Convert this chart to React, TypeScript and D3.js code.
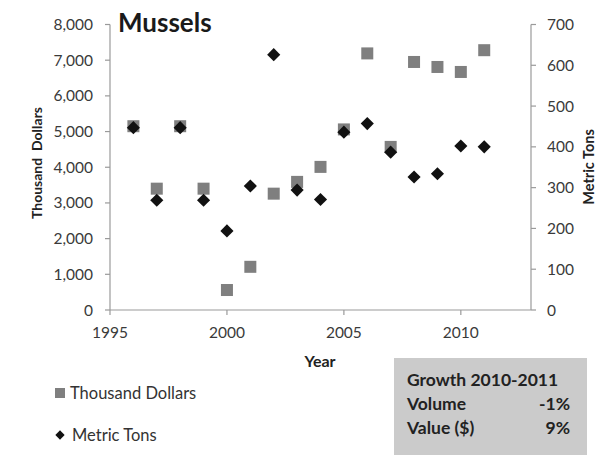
import React from "react";
import * as d3 from "d3";

const years = [1996, 1997, 1998, 1999, 2000, 2001, 2002, 2003, 2004, 2005, 2006, 2007, 2008, 2009, 2010, 2011];
const thousandDollars = [5150, 3400, 5150, 3400, 560, 1210, 3260, 3590, 4010, 5060, 7190, 4570, 6950, 6810, 6670, 7280];
const metricTons = [447, 269, 447, 269, 194, 304, 626, 294, 271, 436, 457, 387, 326, 334, 402, 400];
const xTicks = [1995, 2000, 2005, 2010];
const leftTicks = [0, 1000, 2000, 3000, 4000, 5000, 6000, 7000, 8000];
const rightTicks = [0, 100, 200, 300, 400, 500, 600, 700];
const growthRows = [
  ["Volume", "-1%"],
  ["Value ($)", "9%"],
];

const W = 608;
const H = 455;
const FONT = "Lato, 'Open Sans', sans-serif";

export default function App() {
  const x = d3.scaleLinear().domain([1995, 2013]).range([110, 531]);
  const yL = d3.scaleLinear().domain([0, 8000]).range([310, 24.5]);
  const yR = d3.scaleLinear().domain([0, 700]).range([310, 24.5]);
  const fmt = d3.format(",");
  const axisColor = "#9a9a9a";
  const tickText = "#3a3a3a";
  const diamond = d3.symbol().type(d3.symbolDiamond2 ?? d3.symbolDiamond).size(110);
  const legendDiamond = d3.symbol().type(d3.symbolDiamond2 ?? d3.symbolDiamond).size(55);

  return (
    <svg width={W} height={H} style={{ position: "absolute", left: 0, top: 0, background: "#fff" }} fontFamily={FONT}>
      {/* axes */}
      <line x1={x(1995)} x2={x(2013)} y1={yL(0)} y2={yL(0)} stroke={axisColor} strokeWidth={1.2} />
      <line x1={x(1995)} x2={x(1995)} y1={yL(0)} y2={yL(8000)} stroke={axisColor} strokeWidth={1.2} />
      <line x1={x(2013)} x2={x(2013)} y1={yR(0)} y2={yR(700)} stroke={axisColor} strokeWidth={1.2} />
      {xTicks.map((t) => (
        <g key={"x" + t}>
          <line x1={x(t)} x2={x(t)} y1={yL(0)} y2={yL(0) + 5} stroke={axisColor} strokeWidth={1.2} />
          <text x={x(t)} y={yL(0) + 28} textAnchor="middle" fontSize={15.5} fill={tickText}>{t}</text>
        </g>
      ))}
      {leftTicks.map((t) => (
        <g key={"l" + t}>
          <line x1={x(1995) - 5} x2={x(1995)} y1={yL(t)} y2={yL(t)} stroke={axisColor} strokeWidth={1.2} />
          <text x={x(1995) - 17} y={yL(t) + 5.5} textAnchor="end" fontSize={15.5} fill={tickText}>{fmt(t)}</text>
        </g>
      ))}
      {rightTicks.map((t) => (
        <g key={"r" + t}>
          <line x1={x(2013)} x2={x(2013) + 5} y1={yR(t)} y2={yR(t)} stroke={axisColor} strokeWidth={1.2} />
          <text x={x(2013) + 16} y={yR(t) + 5.5} textAnchor="start" fontSize={15.5} fill={tickText}>{t}</text>
        </g>
      ))}
      {/* axis titles */}
      <text transform={`translate(42,163) rotate(-90)`} textAnchor="middle" fontSize={14} fontWeight="bold" fill="#222">{"Thousand\u00a0\u00a0Dollars"}</text>
      <text transform={`translate(594,167) rotate(-90)`} textAnchor="middle" fontSize={14.5} fontWeight="bold" fill="#222">Metric Tons</text>
      <text x={320} y={367} textAnchor="middle" fontSize={16} fontWeight="bold" fill="#222">Year</text>
      {/* title */}
      <text x={118} y={32} fontSize={26} fontWeight="bold" fill="#1a1a1a">Mussels</text>
      {/* squares */}
      {years.map((yr, i) => (
        <rect key={"s" + yr} x={x(yr) - 6} y={yL(thousandDollars[i]) - 6} width={12} height={12} fill="#7f7f7f" />
      ))}
      {/* diamonds */}
      {years.map((yr, i) => (
        <path key={"d" + yr} d={diamond() as string} transform={`translate(${x(yr)},${yR(metricTons[i])})`} fill="#111" />
      ))}
      {/* legend */}
      <rect x={55} y={388} width={10} height={10} fill="#7f7f7f" />
      <text x={70} y={398.5} fontSize={16.5} fill="#333">Thousand Dollars</text>
      <path d={legendDiamond() as string} transform="translate(60,435)" fill="#111" />
      <text x={72} y={441} fontSize={16.5} fill="#333">Metric Tons</text>
      {/* growth box */}
      <rect x={394} y={358} width={193} height={100} fill="#cbcbcb" />
      <text x={407} y={386} fontSize={17.5} fontWeight="bold" fill="#222">Growth 2010-2011</text>
      {growthRows.map((r, i) => (
        <g key={r[0]}>
          <text x={407} y={410 + i * 24} fontSize={17.5} fontWeight="bold" fill="#222">{r[0]}</text>
          <text x={570} y={410 + i * 24} textAnchor="end" fontSize={17.5} fontWeight="bold" fill="#222">{r[1]}</text>
        </g>
      ))}
    </svg>
  );
}
